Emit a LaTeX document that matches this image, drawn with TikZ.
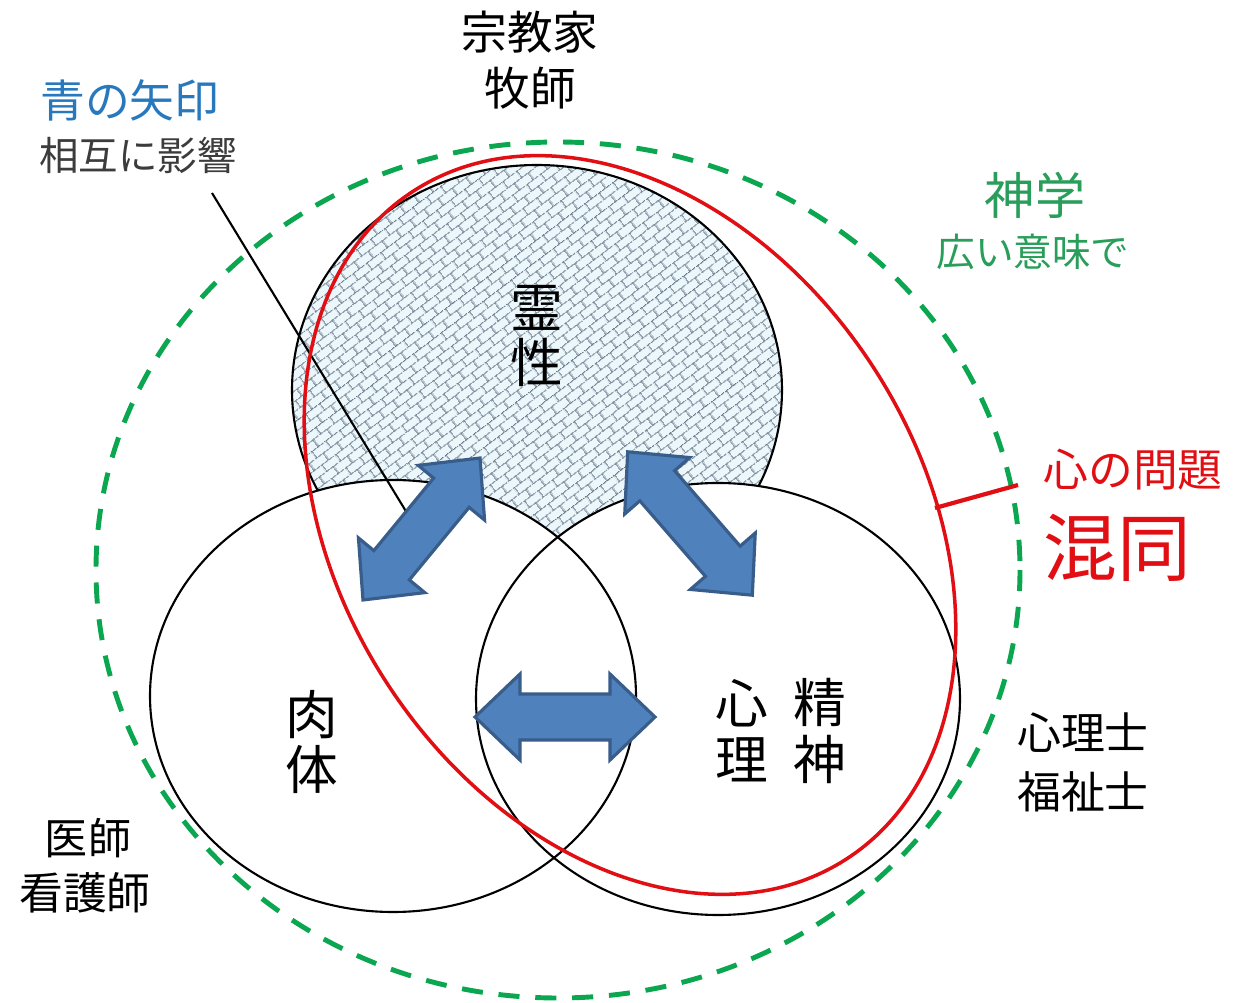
\documentclass[tikz,border=0pt]{standalone}
\usepackage{fontspec}
\setmainfont{Noto Sans CJK JP}
\usetikzlibrary{patterns.meta}
\definecolor{gr}{RGB}{10,166,80}
\definecolor{grtext}{RGB}{40,158,90}
\definecolor{rd}{RGB}{225,15,20}
\definecolor{bltext}{RGB}{40,120,190}
\definecolor{afill}{RGB}{79,129,189}
\definecolor{aedge}{RGB}{56,93,138}
\definecolor{patbg}{RGB}{236,247,252}
\definecolor{patline}{RGB}{105,122,138}
\definecolor{txtgray}{RGB}{60,60,60}
\pgfdeclarepattern{
  name=diagbricks,
  type=uncolored,
  bottom left={\pgfpoint{0pt}{0pt}},
  top right={\pgfpoint{10pt}{10pt}},
  tile size={\pgfpoint{10pt}{10pt}},
  tile transformation={\pgftransformrotate{37}},
  code={
    \pgfsetlinewidth{0.6pt}
    \pgfpathmoveto{\pgfpoint{0pt}{1pt}}\pgfpathlineto{\pgfpoint{10pt}{1pt}}
    \pgfpathmoveto{\pgfpoint{0pt}{6pt}}\pgfpathlineto{\pgfpoint{10pt}{6pt}}
    \pgfpathmoveto{\pgfpoint{1pt}{1pt}}\pgfpathlineto{\pgfpoint{1pt}{6pt}}
    \pgfpathmoveto{\pgfpoint{6pt}{6pt}}\pgfpathlineto{\pgfpoint{6pt}{10pt}}
    \pgfpathmoveto{\pgfpoint{6pt}{0pt}}\pgfpathlineto{\pgfpoint{6pt}{1pt}}
    \pgfusepath{stroke}
  }
}
\tikzset{
  circ/.style={draw=black, line width=1.2pt},
  arr/.style={fill=afill, draw=aedge, line width=1.8pt, line join=miter},
  txt/.style={inner sep=0pt, align=center},
}
\newcommand{\dblarr}[3]{%
  \begin{scope}[shift={#1}, rotate=#2]
    \pgfmathsetmacro{\L}{#3}
    \pgfmathsetmacro{\H}{#3-45}
    \draw[arr] (-\L,0) -- (-\H,43) -- (-\H,23) -- (\H,23) -- (\H,43) -- (\L,0)
      -- (\H,-43) -- (\H,-23) -- (-\H,-23) -- (-\H,-43) -- cycle;
  \end{scope}}
\begin{document}
\begin{tikzpicture}[x=0.02cm, y=-0.02cm]
\useasboundingbox (0,0) rectangle (1245,1003);
\fill[white] (0,0) rectangle (1245,1003);

% top circle with pattern
\fill[patbg] (537,390) ellipse [x radius=245, y radius=225];
\fill[pattern=diagbricks, pattern color=patline] (537,390) ellipse [x radius=245, y radius=225];
\draw[circ] (537,390) ellipse [x radius=245, y radius=225];

% left and right circles
\fill[white] (393,696) ellipse [x radius=243, y radius=216];
\fill[white] (718,699) ellipse [x radius=242, y radius=216];
\draw[circ] (393,696) ellipse [x radius=243, y radius=216];
\draw[circ] (718,699) ellipse [x radius=242, y radius=216];

% callout line
\coordinate (calA) at (212,193);
\coordinate (calB) at (407,513);
\draw[line width=1.2pt] (calA) -- (calB);

% green dashed circle
\draw[gr, line width=2.8pt, dash pattern=on 12pt off 9pt] (558,570) ellipse [x radius=462, y radius=428];

% red ellipse
\draw[rd, line width=2pt, rotate around={-57:(630,525)}] (630,525) ellipse [x radius=398, y radius=290];
\coordinate (tickA) at (935,508);
\coordinate (tickB) at (1018,485);
\draw[rd, line width=2.4pt] (tickA) -- (tickB);

% arrows
\dblarr{(421.5,529)}{50.5}{92}
\dblarr{(690,523.5)}{-49}{95}
\dblarr{(565,717)}{0}{90}

% texts
\node[txt, font=\fontsize{26}{30}\selectfont] (shu) at (530,32) {宗教家};
\node[txt, font=\fontsize{26}{30}\selectfont] (boku) at (530,88) {牧師};
\node[txt, text=bltext, font=\fontsize{25.5}{30}\selectfont] (ao) at (130,100) {青の矢印};
\node[txt, text=txtgray, font=\fontsize{22.5}{28}\selectfont] (sogo) at (138,155) {相互に影響};
\node[txt, text=grtext, font=\fontsize{28.5}{32}\selectfont] (shingaku) at (1035,195) {神学};
\node[txt, text=grtext, font=\fontsize{22}{28}\selectfont] (hiroi) at (1033,252) {広い意味で};
\node[txt, font=\fontsize{30}{31}\selectfont] (rei) at (537,336) {霊\\性};
\node[txt, font=\fontsize{30}{31}\selectfont] (niku) at (312,742) {肉\\体};
\node[txt, font=\fontsize{30}{32}\selectfont] (shinri) at (742,731) {心\\理};
\node[txt, font=\fontsize{30}{32}\selectfont] (seishin) at (820,731) {精\\神};
\node[txt, text=rd, font=\fontsize{25.5}{30}\selectfont] (kokoro) at (1133,470) {心の問題};
\node[txt, text=rd, font=\fontsize{42}{46}\selectfont] (kondo) at (1117,548) {混同};
\node[txt, font=\fontsize{25}{30}\selectfont] (shinrishi) at (1083,733) {心理士};
\node[txt, font=\fontsize{25}{30}\selectfont] (fukushi) at (1083,792) {福祉士};
\node[txt, font=\fontsize{24.5}{30}\selectfont] (ishi) at (88,838) {医師};
\node[txt, font=\fontsize{25}{30}\selectfont] (kango) at (85,893) {看護師};
\end{tikzpicture}
\end{document}
